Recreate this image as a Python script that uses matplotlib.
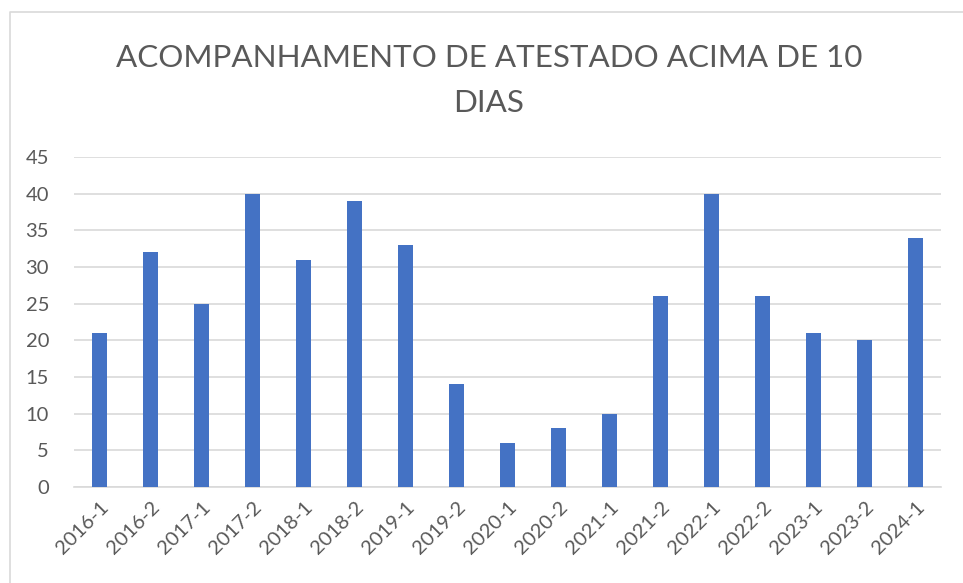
import matplotlib
matplotlib.use("Agg")
import matplotlib.pyplot as plt
from matplotlib.lines import Line2D

plt.rcParams['font.family'] = ['Lato', 'DejaVu Sans']

# dados
periodos = ["2016-1", "2016-2", "2017-1", "2017-2", "2018-1", "2018-2", "2019-1", "2019-2",
            "2020-1", "2020-2", "2021-1", "2021-2", "2022-1", "2022-2", "2023-1", "2023-2", "2024-1"]
atestados = [21, 32, 25, 40, 31, 39, 33, 14, 6, 8, 10, 26, 40, 26, 21, 20, 34]
yticks = [0, 5, 10, 15, 20, 25, 30, 35, 40, 45]

W, H = 963, 583
fig = plt.figure(figsize=(W / 100, H / 100), dpi=100)
ax = fig.add_axes([74 / W, 1 - 487 / H, (941 - 74) / W, (487 - 157) / H])

x = range(len(periodos))
ax.bar(x, atestados, width=0.31, color="#4472C4", zorder=3)

ax.set_xlim(-0.5, len(periodos) - 0.5)
ax.set_ylim(0, 45)
ax.set_yticks(yticks)
ax.set_xticks(list(x))
ax.set_xticklabels(periodos, rotation=45, ha="right", va="top", rotation_mode="anchor")
ax.grid(axis="y", color="#D9D9D9", linewidth=1.2, zorder=0)
ax.tick_params(axis="both", length=0, labelsize=14.5, labelcolor="#595959")
ax.tick_params(axis="x", pad=8)
ax.tick_params(axis="y", pad=18)
for s in ["top", "right", "left"]:
    ax.spines[s].set_visible(False)
ax.spines["bottom"].set_color("#D9D9D9")
ax.spines["bottom"].set_linewidth(1.2)

# título em duas linhas
fig.text(489 / W, 1 - 58 / H, "ACOMPANHAMENTO DE ATESTADO ACIMA DE 10",
         ha="center", va="center", fontsize=22.6, color="#595959")
fig.text(489 / W, 1 - 103 / H, "DIAS",
         ha="center", va="center", fontsize=22.6, color="#595959")

# borda do gráfico (cortada à direita e embaixo)
fig.add_artist(Line2D([10 / W, 10 / W, 1], [0, 1 - 12 / H, 1 - 12 / H],
                      color="#D9D9D9", linewidth=1.2, transform=fig.transFigure))

fig.savefig("out.png", dpi=100)
